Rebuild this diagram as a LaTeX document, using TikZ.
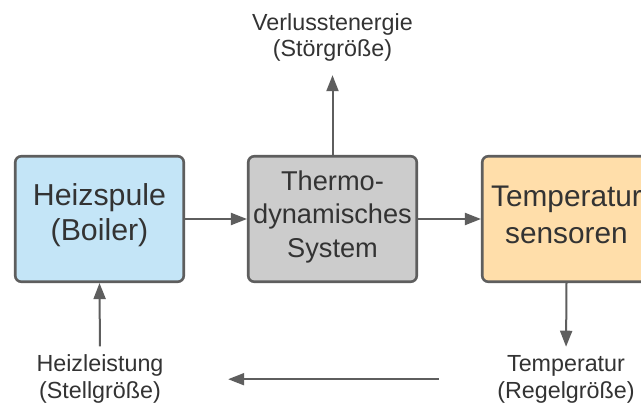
\documentclass[tikz,border=0pt]{standalone}
\usepackage{fontspec}
\setmainfont{Liberation Sans}
\usetikzlibrary{arrows.meta}
\definecolor{boxline}{RGB}{94,94,94}
\definecolor{txt}{RGB}{51,51,51}
\definecolor{arrowc}{RGB}{94,94,94}
\definecolor{bluefill}{RGB}{196,229,247}
\definecolor{grayfill}{RGB}{204,204,204}
\definecolor{orangefill}{RGB}{255,222,170}
\tikzset{
  blockbox/.style={draw=boxline, line width=2.6pt, rounded corners=6pt,
    minimum width=168.5pt, minimum height=125.5pt, inner sep=0pt,
    align=center, text=txt},
  lbl/.style={inner sep=0pt, align=center, text=txt,
    font=\fontsize{23.3}{26.5}\selectfont},
  arr/.style={draw=arrowc, line width=2pt,
    -{Triangle[length=16pt,width=12pt]}}
}
\begin{document}
\begin{tikzpicture}[x=1pt,y=-1pt]
\useasboundingbox (0,0) rectangle (641,405);
\clip (0,0) rectangle (641,405);
\fill[white] (0,0) rectangle (641,405);

\node[blockbox, fill=bluefill, font=\fontsize{30.3}{35}\selectfont, text depth=14pt]
  (h) at (99.5,219) {Heizspule\\(Boiler)};
\node[blockbox, fill=grayfill, font=\fontsize{27.2}{33.5}\selectfont, text depth=10pt]
  (t) at (332.5,219) {Thermo-\\dynamisches\\System};
\node[blockbox, fill=orangefill, font=\fontsize{29.8}{37}\selectfont, text depth=9pt]
  (s) at (566.5,219) {Temperatur\\sensoren};

\node[lbl] (vl) at (332.5,37.6) {Verlusstenergie\\(Störgröße)};
\node[lbl] (hl) at (100,379.2) {Heizleistung\\(Stellgröße)};
\node[lbl] (tl) at (566,379.2) {Temperatur\\(Regelgröße)};

\draw[arr] (h.east) -- (t.west);
\draw[arr] (t.east) -- (s.west);
\draw[arr, shorten >=13.3pt] (t.north) -- (vl.south);
\draw[arr, shorten >=8.6pt] (s.south) -- (tl.north);
\draw[arr, shorten <=8.6pt] (hl.north) -- (h.south);
\draw[arr, shorten <=58.5pt, shorten >=64.5pt] (tl.west) -- (hl.east);
\end{tikzpicture}
\end{document}
